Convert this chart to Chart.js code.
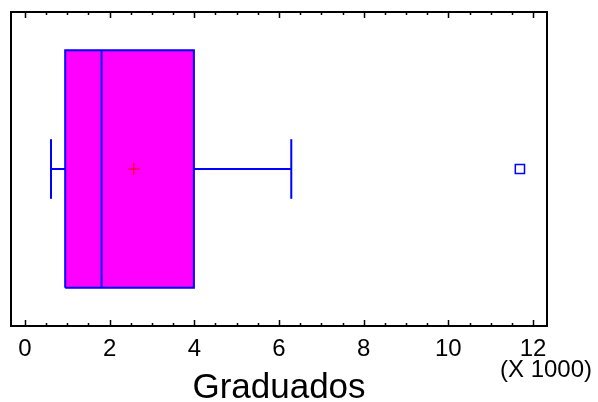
<!DOCTYPE html>
<html>
<head>
<meta charset="utf-8">
<script src="https://cdn.jsdelivr.net/npm/chart.js@4.4.0/dist/chart.umd.min.js"></script>
<style>
  html, body { margin: 0; padding: 0; background: #fff; }
  #wrap { width: 598px; height: 402px; }
</style>
</head>
<body>
<div id="wrap"><canvas id="chart" width="598" height="402"></canvas></div>
<script>
// Graduados: five-number summary, mean and outliers
const summaryLabels = ['min', 'q1', 'median', 'q3', 'max'];
const summaryValues = [615, 950, 1810, 3990, 6290];
const meanValues = [2570];
const outlierValues = [11690];
const tickValues = [0, 2000, 4000, 6000, 8000, 10000, 12000];
const tickLabels = ['0', '2', '4', '6', '8', '10', '12'];

const [vMin, q1, med, q3, vMax] = summaryValues;

// vertical layout of the box inside a 0..1 y range
const mid = 0.5;
const boxHalf = 0.378;
const capHalf = 0.095;
const boxTop = mid + boxHalf, boxBot = mid - boxHalf;

const BLUE = '#0000ff';
const MAGENTA = '#ff00ff';
const FONT = '"Liberation Sans", Arial, sans-serif';

function seg(points, extra) {
  return Object.assign({
    data: points.map(p => ({ x: p[0], y: p[1] })),
    borderColor: BLUE,
    borderWidth: 2,
    pointRadius: 0,
    fill: false
  }, extra || {});
}

// datasets drawn first come out on top, so the box fill goes last
const datasets = [
  // mean
  {
    data: meanValues.map(v => ({ x: v, y: mid })),
    showLine: false,
    pointStyle: 'cross',
    pointRadius: 6,
    borderColor: '#ff0000',
    borderWidth: 1.2
  },
  // outliers
  {
    data: outlierValues.map(v => ({ x: v, y: mid })),
    showLine: false,
    pointStyle: 'rect',
    pointRadius: 6.5,
    borderColor: BLUE,
    backgroundColor: 'rgba(0,0,0,0)',
    borderWidth: 1.5
  },
  // median
  seg([[med, boxBot], [med, boxTop]]),
  // box outline
  seg([[q1, boxBot], [q3, boxBot], [q3, boxTop], [q1, boxTop], [q1, boxBot]]),
  // whiskers
  seg([[vMin, mid], [q1, mid]]),
  seg([[vMin, mid - capHalf], [vMin, mid + capHalf]]),
  seg([[q3, mid], [vMax, mid]]),
  seg([[vMax, mid - capHalf], [vMax, mid + capHalf]]),
  // box fill (top edge filled down to bottom edge)
  seg([[q1, boxTop], [q3, boxTop]], { borderWidth: 0, backgroundColor: MAGENTA, fill: '+1' }),
  seg([[q1, boxBot], [q3, boxBot]], { borderWidth: 0 })
];

// frame, inward tick marks and the (X 1000) note
const framePlugin = {
  id: 'frame',
  afterDraw(chart) {
    const { ctx, chartArea: a } = chart;
    const xs = chart.scales.x;
    ctx.save();
    ctx.strokeStyle = '#000';
    ctx.lineWidth = 2;
    ctx.strokeRect(a.left, a.top, a.right - a.left, a.bottom - a.top);
    ctx.lineWidth = 1.5;
    for (let v = 0; v <= 12000; v += 500) {
      const px = Math.round(xs.getPixelForValue(v)) + 0.5;
      const len = v % 2000 === 0 ? 6 : 3;
      ctx.beginPath();
      ctx.moveTo(px, a.bottom);
      ctx.lineTo(px, a.bottom - len);
      ctx.moveTo(px, a.top);
      ctx.lineTo(px, a.top + len);
      ctx.stroke();
    }
    ctx.fillStyle = '#000';
    ctx.font = '24px ' + FONT;
    ctx.textAlign = 'center';
    ctx.textBaseline = 'middle';
    ctx.fillText('(X 1000)', 546, 370);
    ctx.restore();
  }
};

new Chart(document.getElementById('chart').getContext('2d'), {
  type: 'line',
  data: { datasets: datasets },
  options: {
    responsive: false,
    animation: false,
    layout: { padding: { left: 11, top: 12, right: 51, bottom: 0 } },
    plugins: {
      legend: { display: false },
      tooltip: { enabled: false }
    },
    scales: {
      x: {
        type: 'linear',
        min: -330,
        max: 12330,
        afterBuildTicks: scale => {
          scale.ticks = tickValues.map(v => ({ value: v }));
        },
        grid: { display: false, drawTicks: false },
        border: { display: false },
        ticks: {
          color: '#000',
          padding: 11,
          maxRotation: 0,
          autoSkip: false,
          font: { family: FONT, size: 24, lineHeight: 1 },
          callback: value => tickLabels[tickValues.indexOf(value)]
        },
        title: {
          display: true,
          text: 'Graduados',
          color: '#000',
          padding: { top: 2, bottom: 0 },
          font: { family: FONT, size: 35, lineHeight: 0.8 }
        }
      },
      y: {
        type: 'linear',
        min: 0,
        max: 1,
        display: false
      }
    }
  },
  plugins: [framePlugin]
});
</script>
</body>
</html>
